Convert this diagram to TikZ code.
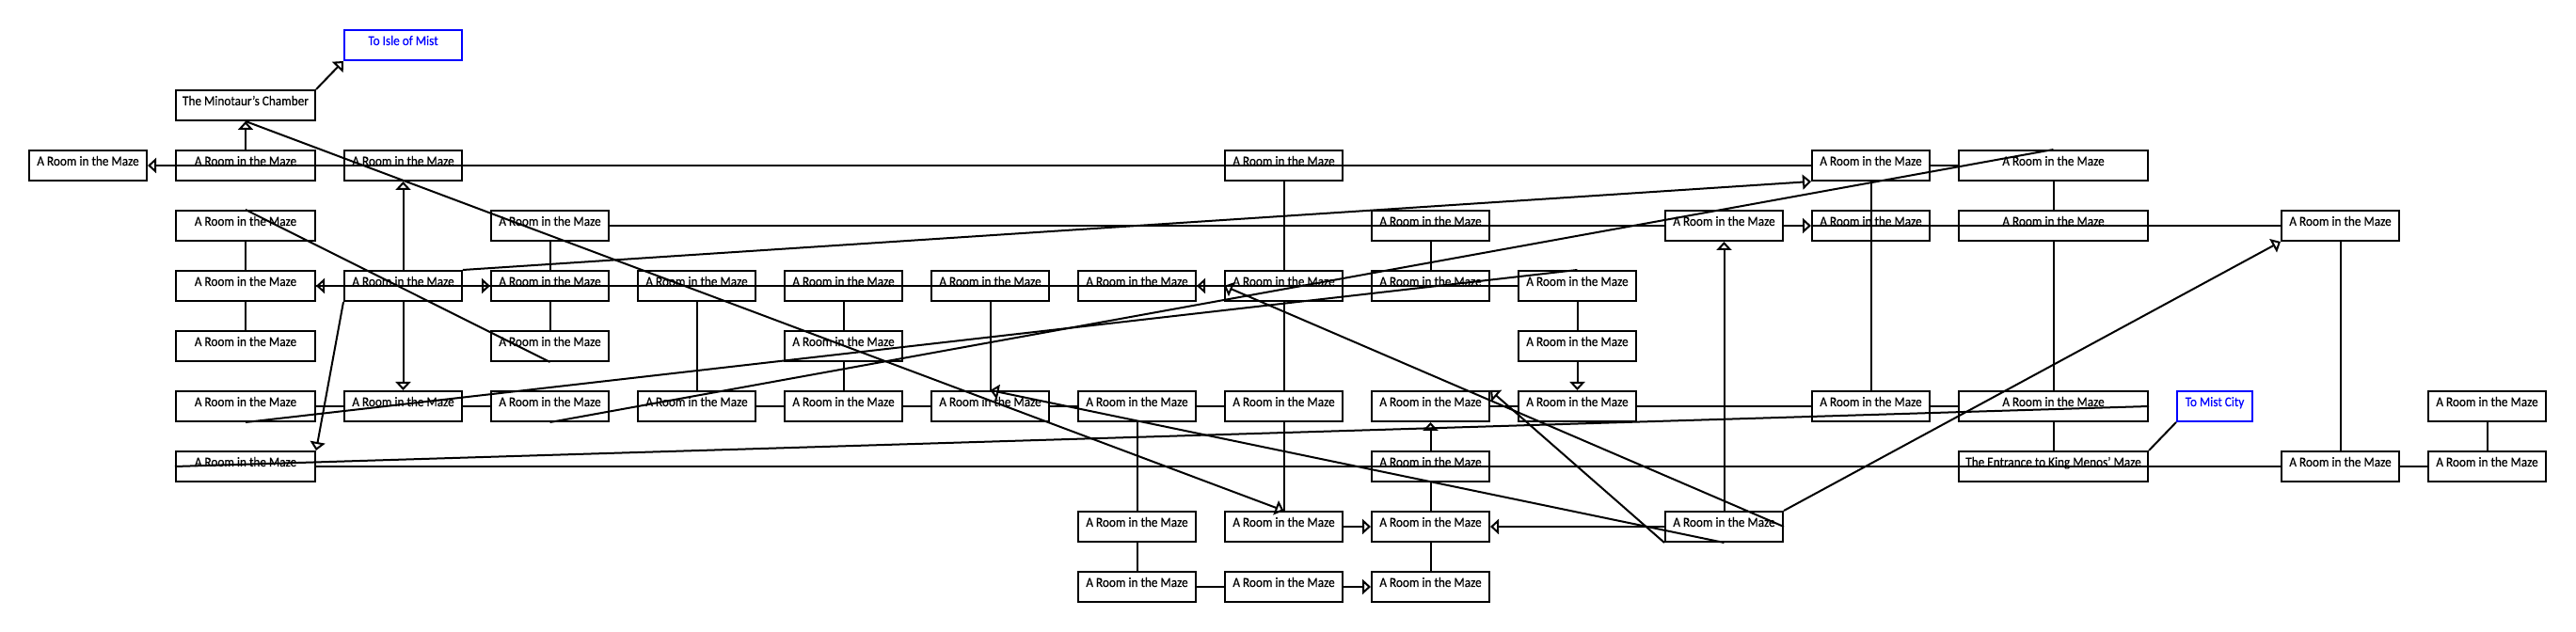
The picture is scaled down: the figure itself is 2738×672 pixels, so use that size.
\documentclass[tikz,border=0pt]{standalone}
\usepackage{fontspec}
\setmainfont{Carlito}[FakeStretch=0.92,FakeBold=0.4]
\usetikzlibrary{arrows.meta}
\tikzset{
  room/.style={draw, line width=1pt, minimum width=62.5pt, minimum height=16pt,
    inner sep=0pt, text height=4pt, text depth=4pt, font=\fontsize{7.2pt}{8pt}\selectfont},
  exit/.style={room, draw=blue, text=blue},
  arr/.style={-{Triangle[open,length=4.5pt,width=8pt]}}
}
\begin{document}
\begin{tikzpicture}[x=0.5pt,y=-0.5pt,line width=1pt]
\useasboundingbox (0,0) rectangle (2738,672);
% rooms, column by column
\foreach \c/\x/\w/\rows in {A/93.5/62.5pt/{2}, B/261/74pt/{2,3,4,5,6,7},
    C/428.5/62.5pt/{2,4,6}, D/584.5/62.5pt/{3,4,5,6}, E/740.5/62.5pt/{4,6},
    F/896.5/62.5pt/{4,5,6}, G/1052.5/62.5pt/{4,6}, H/1208.5/62.5pt/{4,6,8,9},
    I/1364.5/62.5pt/{2,4,6,8,9}, J/1520.5/62.5pt/{3,4,6,7,8,9},
    K/1676.5/62.5pt/{4,5,6}, L/1832.5/62.5pt/{3,8}, M/1988.5/62.5pt/{2,3,6},
    N/2182.5/100.5pt/{2,3,6}, O/2487.5/62.5pt/{3,7}, P/2643.5/62.5pt/{6,7}}
  \foreach \r in \rows
    \node[room, minimum width=\w] (\c\r) at (\x,48+64*\r) {A Room in the Maze};
\node[room, minimum width=74pt] (B1) at (261,112) {The Minotaur's Chamber};
\node[room, minimum width=100.5pt] (N7) at (2182.5,496) {The Entrance to King Menos' Maze};
\node[exit] (C0) at (428.5,48) {To Isle of Mist};
\node[exit, minimum width=40pt] (MC) at (2354,432) {To Mist City};
% corridors
\foreach \a/\b in {B3/B4, B4/B5, D3/D4, D4/D5, E4/E6, F4/F5, F5/F6, G4/G6, H6/H8,
    H8/H9, I2/I4, I4/I6, I6/I8, J3/J4, J7/J8, J8/J9, K4/K5, M2/M6, N2/N3, N3/N6,
    N6/N7, O3/O7, P6/P7}
  \draw (\a.south) -- (\b.north);
\foreach \a/\b in {B6/C6, C6/D6, E6/F6, F6/G6, G6/H6, H6/I6, J6/K6, K6/M6, M6/N6,
    H9/I9, M2/N2, O7/P7, B4/K4, D3/L3, B7/O7}
  \draw (\a.east) -- (\b.west);
\draw (M3.west) -- (O3.west);
\foreach \a/\b in {B3.north/D5.south, B6.south/K4.north, D6.south/N2.north,
    N6.east/B7.west, N7.north east/MC.south west}
  \draw (\a) -- (\b);
% one-way passages
\foreach \a/\b in {B2.north/B1.south, C4.north/C2.south, C4.south/C6.north,
    J7.north/J6.south, K5.south/K6.north, L8.north/L3.south, C4.west/B4.east,
    C4.east/D4.west, I4.west/H4.east, L3.east/M3.west, I8.east/J8.west,
    I9.east/J9.west, L8.west/J8.east, M2.west/A2.east,
    B1.north east/C0.south west, B1.south/I8.north, C4.north east/M2.south west,
    C4.south west/B7.north east, L8.south/G6.north, L8.south west/J6.north east,
    L8.east/I4.west, L8.north east/O3.south west}
  \draw[arr] (\a) -- (\b);
\end{tikzpicture}
\end{document}
